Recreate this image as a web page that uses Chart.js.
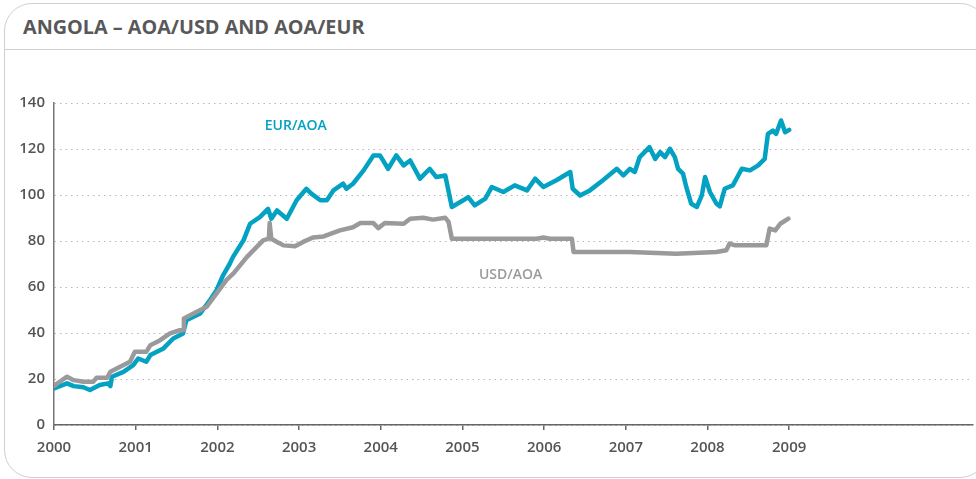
<!DOCTYPE html>
<html>
<head>
<meta charset="utf-8">
<title>Angola - AOA/USD and AOA/EUR</title>
<script src="https://cdn.jsdelivr.net/npm/chart.js@4"></script>
<style>
  body { margin: 0; background: #fff; width: 976px; height: 479px; overflow: hidden; position: relative; }
  .frame {
    position: absolute; left: 4px; top: 3px; width: 984px; height: 475px;
    border: 1.5px solid #cfcfcf; border-radius: 28px; box-sizing: border-box;
  }
  .sep { position: absolute; left: 4px; top: 49px; width: 980px; height: 0; border-top: 1.5px solid #cfcfcf; }
  .title {
    position: absolute; left: 23px; top: 17px; font-family: "Open Sans", sans-serif;
    font-weight: 700; font-size: 19.8px; line-height: 19px; color: #58585a; white-space: nowrap;
  }
  #myChart { position: absolute; left: 0; top: 0; }
</style>
</head>
<body>
<div class="frame"></div>
<div class="sep"></div>
<div class="title">ANGOLA – AOA/USD AND AOA/EUR</div>
<canvas id="myChart" width="976" height="479"></canvas>
<script>
// years shown on the x axis, and the y ticks
const years = [2000, 2001, 2002, 2003, 2004, 2005, 2006, 2007, 2008, 2009];
const yTicks = [0, 20, 40, 60, 80, 100, 120, 140];

// USD/AOA (decimal years)
const usdDates = [2000.0, 2000.07, 2000.16, 2000.24, 2000.36, 2000.48, 2000.52, 2000.65, 2000.69, 2000.81,
  2000.93, 2000.99, 2001.13, 2001.18, 2001.30, 2001.42, 2001.54, 2001.58, 2001.59, 2001.75,
  2001.87, 2001.99, 2002.11, 2002.2, 2002.36, 2002.56, 2002.63, 2002.64, 2002.66, 2002.73,
  2002.81, 2002.95, 2003.05, 2003.17, 2003.30, 2003.5, 2003.66, 2003.75, 2003.91, 2003.97,
  2004.05, 2004.28, 2004.36, 2004.52, 2004.64, 2004.79, 2004.83, 2004.87, 2005.34, 2005.91,
  2005.99, 2006.07, 2006.34, 2006.36, 2007.05, 2007.62, 2008.11, 2008.23, 2008.27, 2008.34,
  2008.72, 2008.76, 2008.83, 2008.89, 2008.99];
const usdValues = [17, 18.8, 21, 19.5, 18.8, 18.8, 20.5, 20.5, 23.1, 25.3,
  27.5, 31.8, 31.8, 34.7, 36.9, 39.8, 41.2, 41.2, 46.3, 49.2,
  51.4, 57.2, 63, 66, 73, 80.3, 81, 87.8, 81, 79.6,
  78.1, 77.7, 79.6, 81.5, 82, 84.6, 86, 87.8, 87.8, 85.6,
  87.8, 87.5, 89.7, 90.1, 89.3, 90.1, 88.3, 81, 81, 81,
  81.5, 81, 81, 75.2, 75.2, 74.5, 75.2, 76, 78.9, 78.1,
  78.1, 85.4, 84.6, 87.5, 89.7];

// EUR/AOA
const eurDates = [2000.0, 2000.16, 2000.24, 2000.36, 2000.44, 2000.56, 2000.66, 2000.69, 2000.71, 2000.85,
  2000.97, 2001.03, 2001.13, 2001.18, 2001.34, 2001.46, 2001.58, 2001.62, 2001.79, 2001.91,
  2001.99, 2002.07, 2002.15, 2002.19, 2002.32, 2002.40, 2002.52, 2002.62, 2002.66, 2002.73,
  2002.85, 2002.97, 2003.09, 2003.15, 2003.26, 2003.34, 2003.42, 2003.54, 2003.58, 2003.66,
  2003.79, 2003.91, 2003.99, 2004.09, 2004.19, 2004.28, 2004.36, 2004.48, 2004.60, 2004.68,
  2004.79, 2004.87, 2005.01, 2005.07, 2005.15, 2005.28, 2005.36, 2005.50, 2005.64, 2005.79,
  2005.89, 2005.99, 2006.15, 2006.32, 2006.35, 2006.44, 2006.56, 2006.72, 2006.89, 2006.97,
  2007.05, 2007.11, 2007.17, 2007.29, 2007.36, 2007.42, 2007.48, 2007.54, 2007.60, 2007.64,
  2007.70, 2007.74, 2007.80, 2007.87, 2007.93, 2007.97, 2008.03, 2008.11, 2008.15, 2008.21,
  2008.31, 2008.42, 2008.52, 2008.62, 2008.70, 2008.74, 2008.80, 2008.84, 2008.90, 2008.95, 2009.0];
const eurValues = [15.9, 18.1, 16.9, 16.4, 15.2, 17.4, 18.1, 16.9, 21, 23.1,
  26, 28.9, 27.5, 30.4, 33.3, 37.6, 39.8, 45.6, 48.5, 54.3,
  58.6, 65.1, 70, 73, 80.3, 87.5, 90.4, 94, 89.7, 93.3,
  89.7, 97.7, 102.7, 100.6, 97.7, 97.7, 102, 104.9, 102.7, 104.9,
  110.7, 117.2, 117.2, 111.4, 117.2, 112.9, 115, 107.1, 111.4, 107.8,
  108.5, 94.8, 97.7, 99.1, 95.5, 98.4, 103.5, 101.3, 104.2, 102,
  107.1, 103.5, 106.4, 110, 102.7, 99.8, 102, 106.4, 111.4, 108.5,
  111.4, 110, 116.5, 120.8, 115.7, 118.6, 116.5, 120.1, 116.5, 111.4,
  109.3, 103.5, 96.2, 94.8, 99.8, 107.8, 101.3, 96.2, 95.1, 102.7,
  104.2, 111.4, 110.7, 112.9, 115.7, 126.6, 128, 126.6, 132.4, 127.3, 128.3];

const teal = "#03a1c2";
const grey = "#9a9a9c";
const textGrey = "#555557";

function toPoints(dates, values) {
  const pts = [];
  for (let i = 0; i < dates.length; i++) {
    pts.push({ x: dates[i], y: values[i] });
  }
  return pts;
}

// series names written next to the lines, placed in data units
const seriesLabels = {
  id: "seriesLabels",
  afterDatasetsDraw(chart) {
    const ctx = chart.ctx;
    const xs = chart.scales.x;
    const ys = chart.scales.y;
    const items = [
      { text: "EUR/AOA", x: 2002.96, y: 130.2, color: teal },
      { text: "USD/AOA", x: 2005.59, y: 65.1, color: grey },
    ];
    ctx.save();
    ctx.font = "600 14px 'Open Sans'";
    ctx.textAlign = "center";
    ctx.textBaseline = "middle";
    items.forEach(function (it) {
      ctx.fillStyle = it.color;
      ctx.fillText(it.text, xs.getPixelForValue(it.x), ys.getPixelForValue(it.y));
    });
    ctx.restore();
  },
};

const ctx = document.getElementById("myChart");

new Chart(ctx, {
  type: "line",
  data: {
    datasets: [
      {
        label: "USD/AOA",
        data: toPoints(usdDates, usdValues),
        borderColor: grey,
        borderWidth: 4.5,
        order: 0,
      },
      {
        label: "EUR/AOA",
        data: toPoints(eurDates, eurValues),
        borderColor: teal,
        borderWidth: 4.5,
        order: 1,
      },
    ],
  },
  options: {
    responsive: false,
    animation: false,
    layout: { padding: { top: 103, right: 3, bottom: 0, left: 0 } },
    elements: {
      point: { radius: 0 },
      line: { tension: 0, borderJoinStyle: "round", borderCapStyle: "round" },
    },
    plugins: { legend: { display: false }, tooltip: { enabled: false } },
    scales: {
      x: {
        type: "linear",
        min: 2000,
        max: 2011.25,
        afterBuildTicks: function (scale) {
          scale.ticks = years.map(function (v) { return { value: v }; });
        },
        afterFit: function (scale) { scale.height = 54; },
        grid: { drawOnChartArea: false, drawTicks: true, tickLength: 5, color: "#666", lineWidth: 1.5 },
        border: { color: "#666", width: 1.5 },
        ticks: {
          color: textGrey,
          font: { family: "Open Sans", size: 15, weight: "600" },
          padding: 9,
          maxRotation: 0,
          autoSkip: false,
          callback: function (v) { return String(v); },
        },
      },
      y: {
        min: 0,
        max: 140,
        afterBuildTicks: function (scale) {
          scale.ticks = yTicks.map(function (v) { return { value: v }; });
        },
        afterFit: function (scale) { scale.width = 54; },
        grid: { drawTicks: false, color: "#b8b8b8", lineWidth: 1 },
        border: { color: "#777", width: 1.5, dash: [1.5, 4] },
        ticks: {
          color: textGrey,
          font: { family: "Open Sans", size: 15, weight: "600" },
          padding: 9,
        },
      },
    },
  },
  plugins: [seriesLabels],
});
</script>
</body>
</html>
